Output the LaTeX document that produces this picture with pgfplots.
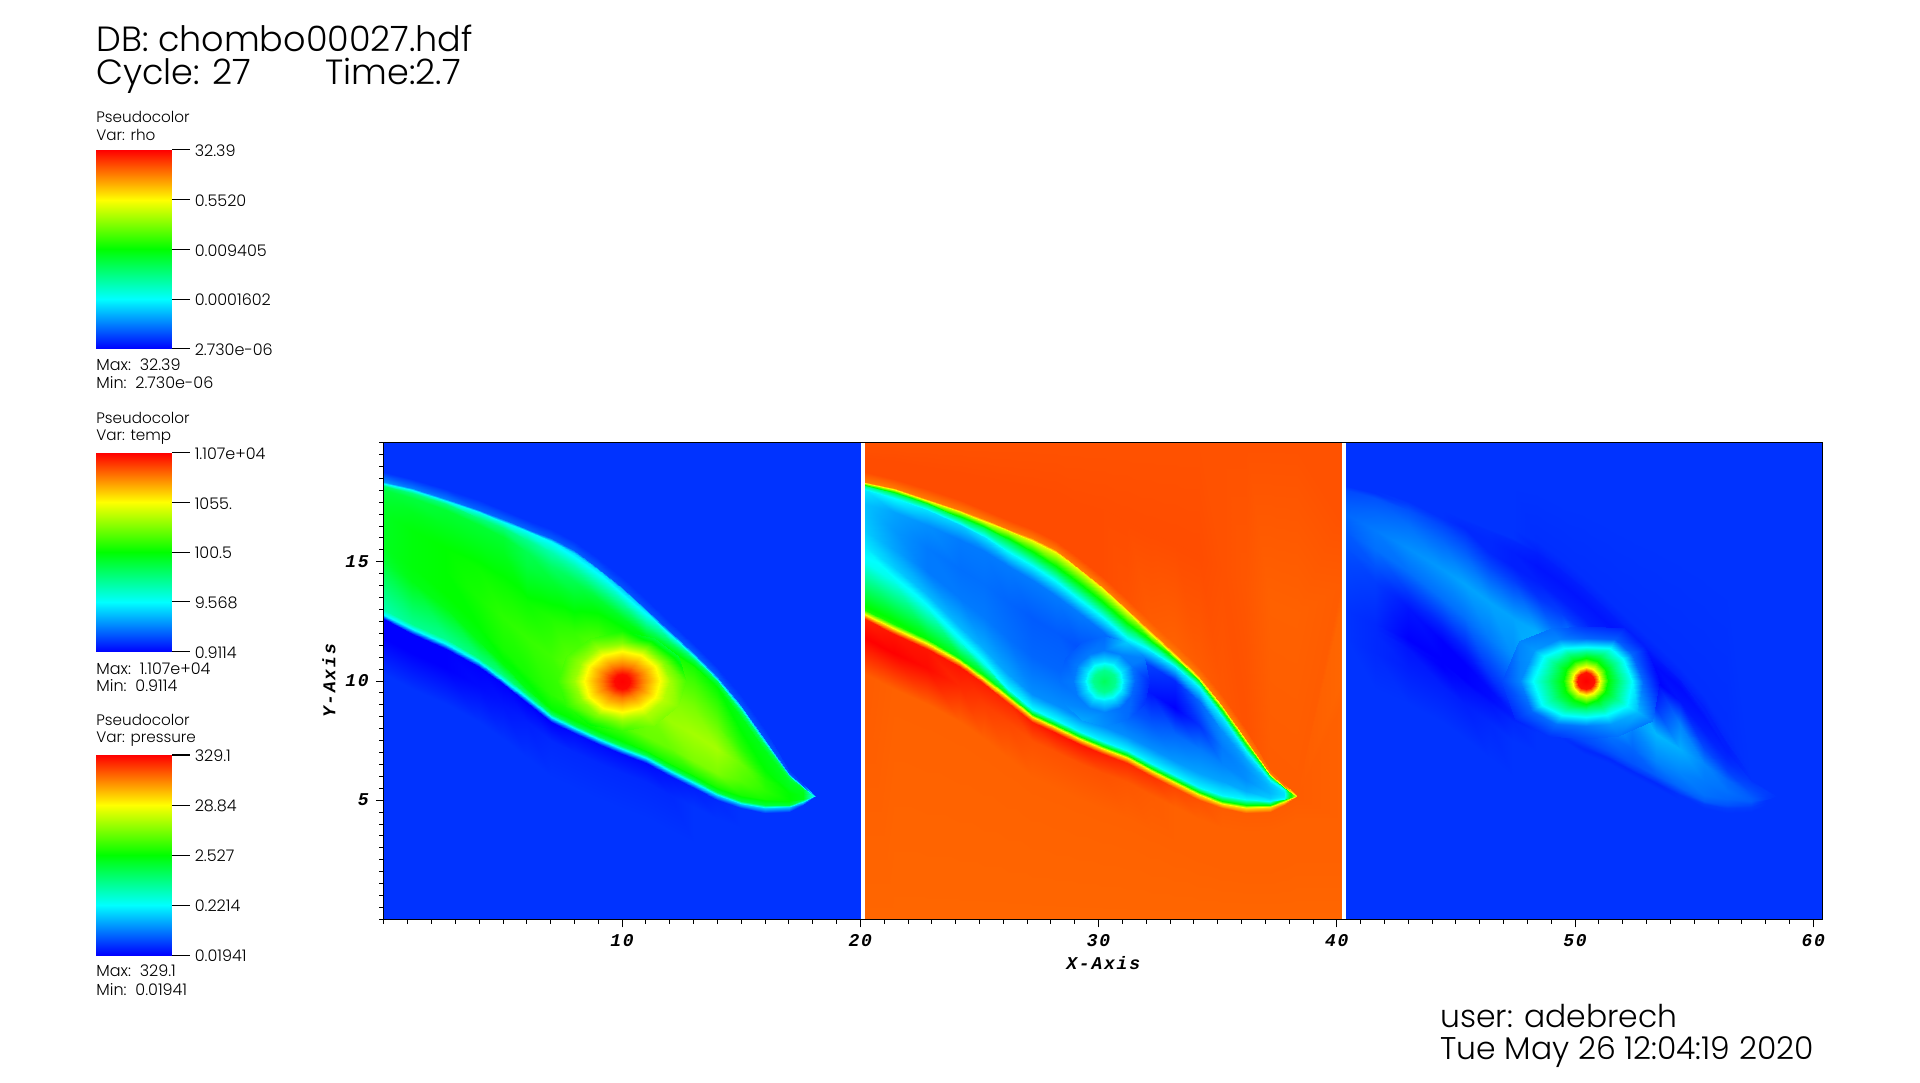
\documentclass[border=0pt]{standalone}
\usepackage{fontspec}
\usepackage{pgfplots}
\usepackage{pgfplotstable}
\pgfplotsset{compat=1.18}
\setmainfont{Poppins Light}
\newfontfamily\axf{Liberation Mono}[LetterSpace=10]
\newcommand{\bigf}{\fontsize{17.5}{18}\selectfont}
\newcommand{\botf}{\fontsize{15.7}{16}\selectfont}
\newcommand{\smf}{\fontsize{7.6}{8}\selectfont}
\newcommand{\tkf}{\fontsize{8}{8}\selectfont}
\pgfplotsset{colormap={vh}{rgb255(0)=(0,0,255) rgb255(1)=(0,255,255) rgb255(2)=(0,255,0) rgb255(3)=(255,255,0) rgb255(4)=(255,0,0)}}
\pgfplotstableread{
x y r t p
0 0 .05 .90 .05
0 10.28 .05 .91 .05
0 11.78 .0 1.0 .05
0 12.58 .0 .97 .05
0 12.78 .24 .78 .05
0 12.98 .33 .52 .05
0 14.98 .45 .26 .07
0 15.6 .47 .23 .08
0 16.3 .47 .2 .09
0 17.0 .47 .19 .10
0 17.41 .46 .19 .09
0 18.01 .44 .23 .07
0 18.18 .40 .36 .05
0 18.26 .28 .62 .05
0 18.36 .14 .88 .05
0 18.76 .05 .925 .05
0 19.4 .05 .925 .05
0 20 .05 .92 .05
1.2 0 .05 .90 .05
1.2 9.67 .05 .905 .05
1.2 11.17 .0 1.0 .04
1.2 11.97 .0 .98 .04
1.2 12.17 .24 .78 .04
1.2 12.37 .36 .52 .04
1.2 14.17 .48 .27 .06
1.2 14.77 .49 .2 .08
1.2 15.54 .49 .16 .11
1.2 16.32 .49 .15 .12
1.2 17.09 .47 .16 .1
1.2 17.69 .44 .25 .08
1.2 17.89 .38 .42 .05
1.2 17.99 .26 .68 .05
1.2 18.09 .12 .88 .05
1.2 18.49 .05 .925 .05
1.2 19.25 .05 .925 .05
1.2 20 .05 .92 .05
2.6 0 .05 .90 .05
2.6 9.05 .05 .905 .05
2.6 10.55 .0 .99 .03
2.6 11.35 .0 .98 .02
2.6 11.55 .24 .78 .01
2.6 11.75 .36 .50 .0
2.6 13.05 .48 .27 .02
2.6 13.65 .5 .18 .05
2.6 14.62 .5 .12 .11
2.6 15.58 .5 .12 .14
2.6 16.55 .47 .14 .11
2.6 17.15 .45 .22 .08
2.6 17.4 .38 .42 .06
2.6 17.55 .26 .70 .05
2.6 17.65 .12 .88 .05
2.6 18.05 .05 .925 .05
2.6 19.0 .05 .925 .05
2.6 20 .05 .92 .05
4 0 .05 .90 .05
4 8.28 .05 .905 .05
4 9.78 .01 .96 .03
4 10.58 .0 .98 .0
4 10.78 .24 .78 .0
4 10.98 .38 .48 .0
4 11.68 .48 .27 .0
4 12.28 .5 .18 .03
4 13.49 .52 .12 .11
4 14.71 .51 .11 .15
4 15.92 .47 .12 .1
4 16.52 .45 .20 .07
4 16.85 .38 .42 .05
4 17.07 .26 .70 .05
4 17.17 .10 .88 .05
4 17.57 .05 .925 .05
4 18.8 .05 .925 .05
4 20 .05 .92 .05
5 0 .05 .90 .05
5 7.55 .05 .905 .05
5 9.05 .02 .94 .03
5 9.85 .0 .97 .01
5 10.05 .24 .78 .0
5 10.25 .38 .48 .0
5 10.73 .49 .27 .0
5 11.33 .52 .17 .03
5 12.7 .54 .12 .11
5 14.06 .51 .11 .16
5 15.43 .47 .12 .09
5 16.03 .45 .22 .06
5 16.4 .38 .42 .04
5 16.68 .26 .70 .045
5 16.78 .10 .88 .05
5 17.18 .05 .925 .05
5 18.6 .05 .925 .05
5 20 .05 .92 .05
6 0 .05 .90 .05
6 6.78 .05 .905 .05
6 8.28 .03 .93 .04
6 9.08 .0 .96 .02
6 9.28 .24 .78 .01
6 9.45 .40 .46 .01
6 9.68 .48 .25 .01
6 10.28 .52 .16 .05
6 11.79 .55 .11 .12
6 13.31 .51 .10 .16
6 14.82 .44 .12 .07
6 15.42 .42 .24 .04
6 15.9 .36 .44 .04
6 16.27 .25 .70 .045
6 16.37 .10 .88 .05
6 16.77 .05 .925 .05
6 18.4 .05 .925 .05
6 20 .05 .92 .05
7 0 .05 .90 .05
7 5.98 .05 .905 .05
7 7.48 .04 .92 .05
7 8.28 .0 .97 .04
7 8.48 .24 .78 .03
7 8.61 .40 .50 .03
7 8.83 .50 .25 .04
7 9.43 .54 .14 .07
7 11.03 .56 .10 .14
7 12.63 .53 .09 .16
7 14.23 .45 .12 .06
7 14.83 .40 .24 .03
7 15.4 .33 .48 .03
7 15.88 .24 .72 .04
7 15.98 .09 .88 .05
7 16.38 .05 .925 .05
7 18.2 .05 .925 .05
7 20 .05 .92 .05
8 0 .05 .90 .05
8 5.52 .05 .905 .05
8 7.02 .04 .92 .05
8 7.82 .01 .98 .05
8 8.02 .24 .78 .05
8 8.15 .42 .50 .05
8 8.37 .50 .25 .07
8 8.97 .56 .14 .1
8 10.51 .60 .10 .18
8 12.04 .55 .09 .17
8 13.58 .46 .12 .05
8 14.18 .42 .25 .03
8 14.83 .33 .50 .02
8 15.38 .22 .72 .03
8 15.48 .09 .88 .035
8 15.88 .05 .925 .045
8 18 .05 .925 .05
8 20 .05 .92 .05
9 0 .05 .90 .05
9 5.05 .05 .905 .05
9 6.55 .04 .92 .05
9 7.35 .01 .98 .05
9 7.55 .24 .78 .05
9 7.68 .42 .50 .05
9 7.9 .50 .24 .07
9 8.5 .58 .14 .1
9 9.95 .62 .10 .18
9 11.4 .60 .08 .15
9 12.85 .50 .12 .06
9 13.45 .45 .25 .03
9 14.1 .33 .50 .02
9 14.65 .22 .72 .03
9 14.75 .09 .88 .035
9 15.15 .05 .925 .045
9 17.5 .05 .925 .05
9 20 .05 .92 .05
10 0 .05 .90 .05
10 4.64 .05 .905 .05
10 6.14 .04 .92 .05
10 6.94 .01 .97 .05
10 7.14 .24 .78 .04
10 7.27 .42 .50 .05
10 7.49 .50 .24 .07
10 8.09 .58 .14 .1
10 9.41 .60 .09 .2
10 10.73 .60 .07 .2
10 12.05 .52 .11 .06
10 12.65 .47 .24 .03
10 13.3 .34 .50 .02
10 13.85 .20 .74 .03
10 13.95 .08 .88 .035
10 14.35 .05 .925 .045
10 17.2 .05 .925 .05
10 20 .05 .92 .05
11 0 .05 .90 .05
11 4.25 .05 .905 .05
11 5.75 .04 .915 .05
11 6.55 .01 .96 .05
11 6.75 .24 .78 .04
11 6.88 .42 .50 .06
11 7.1 .52 .24 .08
11 7.7 .60 .14 .11
11 8.86 .62 .08 .2
11 10.02 .62 .04 .25
11 11.18 .54 .09 .05
11 11.78 .50 .25 .03
11 12.4 .36 .48 .02
11 12.93 .22 .74 .03
11 13.03 .08 .88 .035
11 13.43 .05 .92 .045
11 16.7 .05 .925 .05
11 20 .05 .92 .05
12 0 .05 .90 .05
12 3.72 .05 .905 .05
12 5.22 .04 .91 .05
12 6.02 .02 .95 .05
12 6.22 .24 .78 .04
12 6.35 .42 .50 .06
12 6.57 .52 .24 .08
12 7.17 .60 .14 .1
12 8.32 .65 .08 .14
12 9.48 .62 .02 .14
12 10.63 .56 .06 .03
12 11.23 .52 .22 .02
12 11.65 .40 .46 .02
12 11.98 .24 .74 .03
12 12.08 .08 .88 .035
12 12.48 .05 .91 .045
12 16.2 .05 .925 .05
12 20 .05 .92 .05
13 0 .05 .90 .05
13 3.2 .05 .905 .05
13 4.7 .05 .905 .05
13 5.5 .03 .93 .05
13 5.7 .24 .78 .04
13 5.83 .42 .50 .06
13 6.05 .52 .24 .09
13 6.65 .62 .15 .13
13 7.77 .66 .10 .18
13 8.88 .62 .0 .05
13 10.0 .56 .04 .0
13 10.6 .52 .22 .01
13 10.88 .42 .46 .02
13 11.05 .26 .74 .03
13 11.15 .09 .88 .035
13 11.55 .05 .905 .045
13 15.8 .05 .925 .05
13 20 .05 .92 .05
14 0 .05 .90 .05
14 2.7 .05 .905 .05
14 4.2 .05 .905 .05
14 5.0 .04 .92 .05
14 5.2 .22 .78 .05
14 5.33 .44 .50 .07
14 5.55 .52 .24 .10
14 6.15 .62 .16 .13
14 7.15 .66 .12 .17
14 8.15 .60 .05 .13
14 9.15 .54 .1 .02
14 9.75 .50 .24 .01
14 9.98 .42 .46 .02
14 10.1 .24 .72 .03
14 10.2 .09 .88 .035
14 10.6 .05 .91 .045
14 15.3 .05 .925 .05
14 20 .05 .92 .05
15 0 .05 .90 .05
15 2.35 .05 .905 .05
15 3.85 .05 .905 .05
15 4.65 .05 .91 .05
15 4.85 .20 .78 .06
15 4.98 .44 .50 .09
15 5.2 .52 .24 .11
15 5.8 .58 .16 .12
15 6.5 .60 .13 .13
15 7.2 .54 .12 .07
15 7.9 .50 .14 .03
15 8.5 .48 .23 .02
15 8.75 .40 .46 .03
15 8.9 .22 .72 .03
15 9.0 .08 .88 .035
15 9.4 .05 .915 .045
15 14.7 .05 .92 .05
15 20 .05 .92 .05
16 0 .05 .90 .05
16 2.18 .05 .905 .05
16 3.68 .05 .905 .05
16 4.48 .05 .91 .05
16 4.68 .20 .78 .06
16 4.81 .44 .50 .08
16 5.03 .52 .24 .10
16 5.4 .54 .17 .11
16 5.83 .53 .14 .1
16 6.27 .50 .14 .06
16 6.7 .49 .16 .04
16 7.08 .48 .24 .03
16 7.33 .42 .46 .03
16 7.48 .22 .72 .04
16 7.58 .08 .88 .04
16 7.98 .05 .92 .045
16 14 .05 .915 .05
16 20 .05 .92 .05
17 0 .05 .90 .05
17 2.2 .05 .905 .05
17 3.7 .05 .905 .05
17 4.5 .05 .91 .05
17 4.7 .20 .78 .06
17 4.8 .44 .50 .07
17 4.95 .50 .24 .09
17 5.1 .50 .2 .09
17 5.3 .50 .18 .08
17 5.5 .48 .18 .07
17 5.7 .47 .2 .06
17 5.85 .46 .25 .05
17 6.0 .40 .46 .05
17 6.05 .22 .72 .05
17 6.15 .08 .88 .05
17 6.3 .05 .91 .05
17 13.3 .05 .905 .05
17 20 .05 .92 .05
17.6 0 .05 .90 .05
17.6 2.42 .05 .905 .05
17.6 3.92 .05 .905 .05
17.6 4.78 .05 .91 .05
17.6 4.92 .22 .78 .05
17.6 5.0 .42 .55 .05
17.6 5.04 .48 .26 .06
17.6 5.12 .48 .23 .06
17.6 5.2 .48 .22 .06
17.6 5.3 .48 .22 .06
17.6 5.38 .47 .23 .06
17.6 5.45 .46 .26 .05
17.6 5.52 .40 .46 .05
17.6 5.55 .25 .70 .05
17.6 5.6 .08 .88 .05
17.6 5.72 .05 .91 .05
17.6 13 .05 .905 .05
17.6 20 .05 .92 .05
18.07 0 .05 .90 .05
18.07 2.7 .05 .905 .05
18.07 4.2 .05 .905 .05
18.07 5.12 .05 .91 .05
18.07 5.19 .25 .72 .05
18.07 5.19 .25 .72 .05
18.07 5.19 .25 .72 .05
18.07 5.19 .25 .72 .05
18.07 5.19 .25 .72 .05
18.07 5.19 .25 .72 .05
18.07 5.19 .25 .72 .05
18.07 5.19 .25 .72 .05
18.07 5.19 .25 .72 .05
18.07 5.19 .25 .72 .05
18.07 5.19 .25 .72 .05
18.07 5.26 .05 .91 .05
18.07 12.8 .05 .905 .05
18.07 20 .05 .92 .05
18.15 0 .05 .90 .05
18.15 2.7 .05 .905 .05
18.15 4.2 .05 .905 .05
18.15 5.12 .05 .91 .05
18.15 5.19 .05 .91 .05
18.15 5.19 .05 .91 .05
18.15 5.19 .05 .91 .05
18.15 5.19 .05 .91 .05
18.15 5.19 .05 .91 .05
18.15 5.19 .05 .91 .05
18.15 5.19 .05 .91 .05
18.15 5.19 .05 .91 .05
18.15 5.19 .05 .91 .05
18.15 5.19 .05 .91 .05
18.15 5.19 .05 .91 .05
18.15 5.26 .05 .91 .05
18.15 12.8 .05 .905 .05
18.15 20 .05 .92 .05
20 0 .05 .90 .05
20 2.7 .05 .905 .05
20 4.2 .05 .905 .05
20 5.0 .05 .905 .05
20 5.5 .05 .905 .05
20 6 .05 .905 .05
20 6.5 .05 .905 .05
20 7 .05 .905 .05
20 7.5 .05 .905 .05
20 8 .05 .905 .05
20 9 .05 .905 .05
20 10 .05 .90 .05
20 11 .05 .90 .05
20 12 .05 .90 .05
20 13 .05 .90 .05
20 14 .05 .91 .05
20 17 .05 .92 .05
20 20 .05 .92 .05
}\maintab
\begin{document}
\begin{tikzpicture}
\useasboundingbox (0,0) rectangle (960pt,541pt);
\begin{axis}[
  at={(191.9pt,81.35pt)},anchor=south west,scale only axis,
  width=719.45pt,height=238.4pt,
  xmin=0,xmax=60.4,ymin=0,ymax=20,
  colormap name=vh,point meta min=0,point meta max=1,
  axis on top,axis line style={line width=.6pt},
  tick align=outside,xtick pos=bottom,ytick pos=left,
  xtick={10,20,30,40,50,60},xticklabels={10,20,30,40,50,60},
  ytick={5,10,15},yticklabels={5,10,15},
  minor xtick={0,1,...,60},minor ytick={0,0.5,...,20},
  major tick length=4pt,minor tick length=2.2pt,
  tick style={black,line width=.4pt},
  ticklabel style={font=\axf\fontsize{9}{10}\selectfont\bfseries\itshape},
  label style={font=\axf\fontsize{9}{10}\selectfont\bfseries\itshape},
  xlabel={X-Axis},ylabel={Y-Axis},
  xlabel style={yshift=2pt},ylabel style={yshift=-2pt},
]
\addplot[surf,shader=interp,mesh/cols=18,mesh/rows=21,point meta=explicit] table[x=x,y=y,meta=r]{\maintab};
\addplot[surf,shader=interp,mesh/cols=18,mesh/rows=21,point meta=explicit] table[x expr=\thisrow{x}+20.2,y=y,meta=t]{\maintab};
\addplot[surf,shader=interp,mesh/cols=18,mesh/rows=21,point meta=explicit] table[x expr=\thisrow{x}+40.4,y=y,meta=p]{\maintab};
% density blob
\addplot[surf,shader=interp,mesh/cols=13,mesh/rows=6,point meta=explicit] table[x=x,y=y,meta=v,row sep=\\]{x y v\\
10 9.98 1\\10 9.98 1\\10 9.98 1\\10 9.98 1\\10 9.98 1\\10 9.98 1\\10 9.98 1\\10 9.98 1\\10 9.98 1\\10 9.98 1\\10 9.98 1\\10 9.98 1\\10 9.98 1\\
10.35 9.98 .99\\10.30 10.13 .99\\10.18 10.24 .99\\10 10.28 .99\\9.82 10.24 .99\\9.70 10.13 .99\\9.65 9.98 .99\\9.70 9.83 .99\\9.82 9.72 .99\\10 9.68 .99\\10.18 9.72 .99\\10.30 9.83 .99\\10.35 9.98 .99\\
10.85 9.98 .88\\10.74 10.32 .88\\10.43 10.57 .88\\10 10.66 .88\\9.57 10.57 .88\\9.26 10.32 .88\\9.15 9.98 .88\\9.26 9.64 .88\\9.57 9.39 .88\\10 9.30 .88\\10.43 9.39 .88\\10.74 9.64 .88\\10.85 9.98 .88\\
11.58 9.98 .75\\11.37 10.62 .75\\10.79 11.08 .75\\10 11.25 .75\\9.21 11.08 .75\\8.63 10.62 .75\\8.42 9.98 .75\\8.63 9.34 .75\\9.21 8.88 .75\\10 8.71 .75\\10.79 8.88 .75\\11.37 9.34 .75\\11.58 9.98 .75\\
12 9.98 .66\\11.73 10.78 .63\\11 11.37 .62\\10 11.58 .63\\9 11.37 .65\\8.27 10.78 .65\\8 9.98 .65\\8.27 9.18 .64\\9 8.59 .63\\10 8.38 .65\\11 8.59 .67\\11.73 9.18 .68\\12 9.98 .66\\
12.7 9.98 .57\\12.34 11.03 .45\\11.35 11.8 .44\\10 12.08 .52\\8.65 11.8 .566\\7.66 11.03 .575\\7.3 9.98 .56\\7.66 8.93 .54\\8.65 8.16 .495\\10 7.88 .552\\11.35 8.16 .62\\12.34 8.93 .63\\12.7 9.98 .57\\
};
% temperature blob
\addplot[surf,shader=interp,mesh/cols=13,mesh/rows=5,point meta=explicit] table[x expr=\thisrow{x}+20.2,y=y,meta=v,row sep=\\]{x y v\\
10.04 10 .41\\10.04 10 .41\\10.04 10 .41\\10.04 10 .41\\10.04 10 .41\\10.04 10 .41\\10.04 10 .41\\10.04 10 .41\\10.04 10 .41\\10.04 10 .41\\10.04 10 .41\\10.04 10 .41\\10.04 10 .41\\
10.49 10 .36\\10.43 10.23 .36\\10.27 10.39 .36\\10.04 10.45 .36\\9.81 10.39 .36\\9.65 10.23 .36\\9.59 10 .36\\9.65 9.77 .36\\9.81 9.61 .36\\10.04 9.55 .36\\10.27 9.61 .36\\10.43 9.77 .36\\10.49 10 .36\\
10.89 10 .22\\10.78 10.43 .22\\10.47 10.74 .22\\10.04 10.85 .22\\9.61 10.74 .22\\9.30 10.43 .22\\9.19 10 .22\\9.30 9.57 .22\\9.61 9.26 .22\\10.04 9.15 .22\\10.47 9.26 .22\\10.78 9.57 .22\\10.89 10 .22\\
11.34 10 .1\\11.17 10.65 .12\\10.69 11.13 .13\\10.04 11.3 .12\\9.39 11.13 .12\\8.91 10.65 .12\\8.74 10 .12\\8.91 9.35 .12\\9.39 8.87 .13\\10.04 8.7 .13\\10.69 8.87 .11\\11.17 9.35 .1\\11.34 10 .1\\
11.94 10 .04\\11.69 10.95 .125\\10.99 11.65 .2\\10.04 11.9 .105\\9.09 11.65 .09\\8.39 10.95 .09\\8.14 10 .11\\8.39 9.05 .135\\9.09 8.35 .165\\10.04 8.1 .14\\10.99 8.35 .106\\11.69 9.05 .052\\11.94 10 .04\\
};
% pressure blob
\addplot[surf,shader=interp,mesh/cols=13,mesh/rows=8,point meta=explicit] table[x expr=\thisrow{x}+40.4,y=y,meta=v,row sep=\\]{x y v\\
10.05 10 1\\10.05 10 1\\10.05 10 1\\10.05 10 1\\10.05 10 1\\10.05 10 1\\10.05 10 1\\10.05 10 1\\10.05 10 1\\10.05 10 1\\10.05 10 1\\10.05 10 1\\10.05 10 1\\
10.41 10 .98\\10.36 10.18 .98\\10.23 10.31 .98\\10.05 10.36 .98\\9.87 10.31 .98\\9.74 10.18 .98\\9.69 10 .98\\9.74 9.82 .98\\9.87 9.69 .98\\10.05 9.64 .98\\10.23 9.69 .98\\10.36 9.82 .98\\10.41 10 .98\\
10.63 10 .75\\10.55 10.29 .75\\10.34 10.5 .75\\10.05 10.58 .75\\9.76 10.5 .75\\9.55 10.29 .75\\9.47 10 .75\\9.55 9.71 .75\\9.76 9.5 .75\\10.05 9.42 .75\\10.34 9.5 .75\\10.55 9.71 .75\\10.63 10 .75\\
11.0 10 .5\\10.87 10.48 .5\\10.53 10.82 .5\\10.05 10.95 .5\\9.57 10.82 .5\\9.23 10.48 .5\\9.1 10 .5\\9.23 9.52 .5\\9.57 9.18 .5\\10.05 9.05 .5\\10.53 9.18 .5\\10.87 9.52 .5\\11.0 10 .5\\
11.49 10 .37\\11.24 10.69 .37\\10.79 11.11 .37\\10.05 11.2 .37\\9.36 11.11 .37\\8.77 10.77 .37\\8.48 10 .37\\8.72 9.26 .37\\9.31 8.87 .37\\10.05 8.77 .37\\10.72 8.87 .37\\11.34 9.24 .37\\11.49 10 .37\\
11.98 10 .25\\11.6 10.9 .25\\11.05 11.4 .25\\10.05 11.44 .25\\9.15 11.4 .25\\8.3 11.05 .25\\7.85 10 .25\\8.2 9.0 .25\\9.05 8.55 .25\\10.05 8.48 .25\\10.9 8.55 .25\\11.8 8.95 .25\\11.98 10 .25\\
12.46 10 .1\\11.99 11.13 .1\\11.3 11.75 .09\\10.05 11.8 .1\\8.92 11.75 .13\\7.86 11.31 .15\\7.3 10 .13\\7.74 8.75 .1\\8.8 8.19 .11\\10.05 8.1 .12\\11.11 8.19 .15\\12.24 8.69 .18\\12.46 10 .1\\
13.14 10 .01\\12.53 11.44 .03\\11.65 12.24 .035\\10.05 12.3 .048\\8.61 12.24 .11\\7.25 11.68 .13\\6.53 10 .07\\7.09 8.4 .04\\8.45 7.68 .05\\10.05 7.57 .074\\11.41 7.68 .113\\12.85 8.32 .12\\13.14 10 .01\\
};
\end{axis}
% colour bars
\begin{axis}[at={(48pt,366.65pt)},anchor=south west,scale only axis,width=37.85pt,height=99.35pt,
  xmin=0,xmax=1,ymin=0,ymax=1,colormap name=vh,point meta min=0,point meta max=1,
  axis line style={draw=none},xtick=\empty,ytick={0,.25,.5,.75,1},
  yticklabels={2.730e-06,0.0001602,0.009405,0.5520,32.39},
  ytick pos=right,yticklabel pos=right,tick align=outside,major tick length=9pt,
  ytick style={black,line width=.5pt},yticklabel style={font=\tkf,xshift=-1pt,yshift=-.5pt}]
\addplot[surf,shader=interp,mesh/cols=2,mesh/rows=5,point meta=explicit] coordinates {(0,0)[0] (1,0)[0] (0,.25)[.25] (1,.25)[.25] (0,.5)[.5] (1,.5)[.5] (0,.75)[.75] (1,.75)[.75] (0,1)[1] (1,1)[1]};
\end{axis}
\begin{axis}[at={(48pt,215.15pt)},anchor=south west,scale only axis,width=37.85pt,height=99.5pt,
  xmin=0,xmax=1,ymin=0,ymax=1,colormap name=vh,point meta min=0,point meta max=1,
  axis line style={draw=none},xtick=\empty,ytick={0,.25,.5,.75,1},
  yticklabels={0.9114,9.568,100.5,1055.,1.107e+04},
  ytick pos=right,yticklabel pos=right,tick align=outside,major tick length=9pt,
  ytick style={black,line width=.5pt},yticklabel style={font=\tkf,xshift=-1pt,yshift=-.5pt}]
\addplot[surf,shader=interp,mesh/cols=2,mesh/rows=5,point meta=explicit] coordinates {(0,0)[0] (1,0)[0] (0,.25)[.25] (1,.25)[.25] (0,.5)[.5] (1,.5)[.5] (0,.75)[.75] (1,.75)[.75] (0,1)[1] (1,1)[1]};
\end{axis}
\begin{axis}[at={(48pt,63.5pt)},anchor=south west,scale only axis,width=37.85pt,height=100pt,
  xmin=0,xmax=1,ymin=0,ymax=1,colormap name=vh,point meta min=0,point meta max=1,
  axis line style={draw=none},xtick=\empty,ytick={0,.25,.5,.75,1},
  yticklabels={0.01941,0.2214,2.527,28.84,329.1},
  ytick pos=right,yticklabel pos=right,tick align=outside,major tick length=9pt,
  ytick style={black,line width=.5pt},yticklabel style={font=\tkf,xshift=-1pt,yshift=-.5pt}]
\addplot[surf,shader=interp,mesh/cols=2,mesh/rows=5,point meta=explicit] coordinates {(0,0)[0] (1,0)[0] (0,.25)[.25] (1,.25)[.25] (0,.5)[.5] (1,.5)[.5] (0,.75)[.75] (1,.75)[.75] (0,1)[1] (1,1)[1]};
\end{axis}
% text
\tikzset{tx/.style={anchor=base west,inner sep=0pt}}
\node[tx,font=\bigf] at (48pt,515.2pt) {DB: chombo00027.hdf};
\node[tx,font=\bigf] at (48pt,498.5pt) {Cycle: 27};
\node[tx,font=\bigf] at (162.5pt,498.5pt) {Time:2.7};
\node[tx,font=\smf] at (48pt,479.65pt) {Pseudocolor};
\node[tx,font=\smf] at (48pt,470.65pt) {Var: rho};
\node[tx,font=\tkf] at (48pt,355.65pt) {Max:\ \ 32.39};
\node[tx,font=\tkf] at (48pt,346.65pt) {Min:\ \ 2.730e-06};
\node[tx,font=\smf] at (48pt,329.35pt) {Pseudocolor};
\node[tx,font=\smf] at (48pt,320.65pt) {Var: temp};
\node[tx,font=\tkf] at (48pt,204pt) {Max:\ \ 1.107e+04};
\node[tx,font=\tkf] at (48pt,195.15pt) {Min:\ \ 0.9114};
\node[tx,font=\smf] at (48pt,178.5pt) {Pseudocolor};
\node[tx,font=\smf] at (48pt,169.65pt) {Var: pressure};
\node[tx,font=\tkf] at (48pt,52.65pt) {Max:\ \ 329.1};
\node[tx,font=\tkf] at (48pt,43.5pt) {Min:\ \ 0.01941};
\node[tx,font=\botf] at (720pt,27.5pt) {user: adebrech};
\node[tx,font=\botf] at (720pt,11.5pt) {Tue May 26 12:04:19 2020};
\end{tikzpicture}
\end{document}
